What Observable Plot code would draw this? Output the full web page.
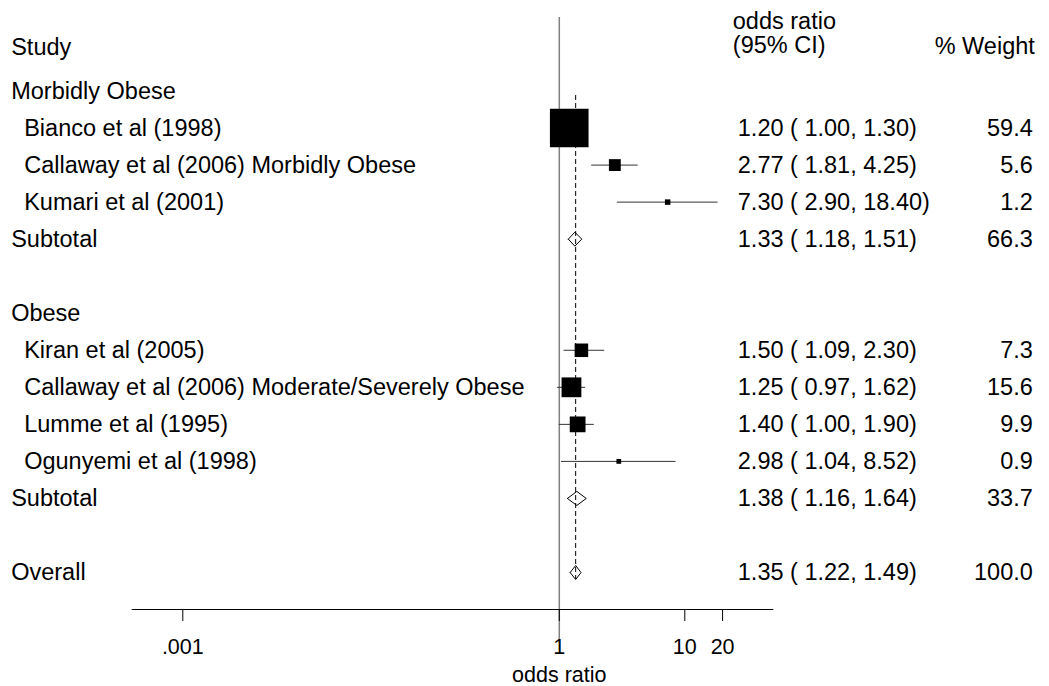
<!DOCTYPE html>
<html><head><meta charset="utf-8">
<script src="https://cdn.jsdelivr.net/npm/d3@7"></script>
<script src="https://cdn.jsdelivr.net/npm/@observablehq/plot@0.6"></script>
<style>body{margin:0;background:#fff;} svg{display:block}</style>
</head><body><div id="chart"></div>
<script>
// ---- data ----
const studyNames = ["Bianco et al (1998)", "Callaway et al (2006) Morbidly Obese", "Kumari et al (2001)",
  "Kiran et al (2005)", "Callaway et al (2006) Moderate/Severely Obese", "Lumme et al (1995)", "Ogunyemi et al (1998)"];
const studyRows = [2, 3, 4, 8, 9, 10, 11];
const studyOR = [1.20, 2.77, 7.30, 1.50, 1.25, 1.40, 2.98];
const studyLo = [1.00, 1.81, 2.90, 1.09, 0.97, 1.00, 1.04];
const studyHi = [1.30, 4.25, 18.40, 2.30, 1.62, 1.90, 8.52];
const studyWeight = [59.4, 5.6, 1.2, 7.3, 15.6, 9.9, 0.9];

const groupNames = ["Morbidly Obese", "Obese"];
const groupRows = [1, 7];

const summaryNames = ["Subtotal", "Subtotal", "Overall"];
const summaryRows = [5, 12, 14];
const summaryOR = [1.33, 1.38, 1.35];
const summaryLo = [1.18, 1.16, 1.22];
const summaryHi = [1.51, 1.64, 1.49];
const summaryWeight = [66.3, 33.7, 100.0];

const xTicks = [0.001, 1, 10, 20];
const xTickLabels = [".001", "1", "10", "20"];
const headerStudy = "Study";
const headerCI = ["odds ratio", "(95% CI)"];
const headerWeight = "% Weight";
const xLabel = "odds ratio";

// ---- layout ----
const W = 1049, H = 686;
const pxPerDecade = 125.5, onePx = 558.8;
const leftPx = 131.7, rightPx = 773.3, axisPx = 609;
const row1Px = 90.5, rowStep = 37.04;
const ry = p => 1 + (p - row1Px) / rowStep;          // pixel -> row units
const xAt = p => Math.pow(10, (p - onePx) / pxPerDecade);
const FS = 23.5, AFS = 21.5;
const fmt2 = v => v.toFixed(2);
const ciText = (o, l, h) => `${fmt2(o)} ( ${fmt2(l)}, ${fmt2(h)})`;

const studies = studyNames.map((name, i) => ({
  name, row: studyRows[i], or: studyOR[i], lo: studyLo[i], hi: studyHi[i], weight: studyWeight[i],
  ci: ciText(studyOR[i], studyLo[i], studyHi[i]), w: studyWeight[i].toFixed(1)
}));
const summaries = summaryNames.map((name, i) => ({
  name, row: summaryRows[i], or: summaryOR[i], lo: summaryLo[i], hi: summaryHi[i],
  ci: ciText(summaryOR[i], summaryLo[i], summaryHi[i]), w: summaryWeight[i].toFixed(1)
}));
const groups = groupNames.map((name, i) => ({name, row: groupRows[i]}));

const dh = 7 / rowStep;
const diamonds = summaries.flatMap((s, i) => [
  {id: i, x: s.lo, y: s.row}, {id: i, x: s.or, y: s.row - dh}, {id: i, x: s.hi, y: s.row},
  {id: i, x: s.or, y: s.row + dh}, {id: i, x: s.lo, y: s.row}
]);

const chart = Plot.plot({
  width: W, height: H,
  marginLeft: leftPx, marginRight: W - rightPx, marginTop: 0, marginBottom: H - axisPx,
  style: {fontFamily: "'Liberation Sans', Arial, sans-serif", background: "white", color: "black"},
  x: {type: "log", domain: [xAt(leftPx), xAt(rightPx)]},
  y: {domain: [ry(0), ry(axisPx)], reverse: true, axis: null},
  r: {type: "sqrt", domain: [0, d3.max(studyWeight)], range: [0, 21.8]},
  marks: [
    Plot.ruleX([1], {y1: ry(17), y2: ry(642), stroke: "#808080", strokeWidth: 1.5}),
    Plot.ruleX([summaryOR[2]], {y1: ry(95), y2: ry(579), stroke: "black", strokeWidth: 1, strokeDasharray: "5,3"}),
    Plot.ruleY(studies, {y: "row", x1: "lo", x2: "hi", stroke: "#333", strokeWidth: 1}),
    Plot.dot(studies, {x: "or", y: "row", r: "weight", symbol: "square", fill: "black"}),
    Plot.line(diamonds, {x: "x", y: "y", z: "id", stroke: "black", strokeWidth: 1, fill: "none"}),
    Plot.ruleY([ry(axisPx)], {stroke: "black", strokeWidth: 1}),
    Plot.axisX({ticks: xTicks, tickFormat: d => xTickLabels[xTicks.indexOf(d)], tickSize: 12,
      tickPadding: 17, fontSize: AFS, label: null, stroke: "black"}),
    Plot.text([xLabel], {x: () => 1, frameAnchor: "bottom", dy: 72, lineAnchor: "bottom", fontSize: AFS, fill: "black"}),
    // headers
    Plot.text([headerStudy], {y: () => ry(47), frameAnchor: "left", dx: -121, textAnchor: "start", fontSize: FS, fill: "black"}),
    Plot.text([headerCI[0]], {y: () => ry(21), frameAnchor: "right", dx: -41, textAnchor: "start", fontSize: FS, fill: "black"}),
    Plot.text([headerCI[1]], {y: () => ry(45), frameAnchor: "right", dx: -41, textAnchor: "start", fontSize: FS, fill: "black"}),
    Plot.text([headerWeight], {y: () => ry(46), frameAnchor: "right", dx: 261, textAnchor: "end", fontSize: FS, fill: "black"}),
    // left labels
    Plot.text(groups, {y: "row", text: "name", frameAnchor: "left", dx: -121, textAnchor: "start", fontSize: FS, fill: "black"}),
    Plot.text(summaries, {y: "row", text: "name", frameAnchor: "left", dx: -121, textAnchor: "start", fontSize: FS, fill: "black"}),
    Plot.text(studies, {y: "row", text: "name", frameAnchor: "left", dx: -108, textAnchor: "start", fontSize: FS, fill: "black"}),
    // right columns
    Plot.text(studies, {y: "row", text: "ci", frameAnchor: "right", dx: -36, textAnchor: "start", fontSize: FS, fill: "black"}),
    Plot.text(summaries, {y: "row", text: "ci", frameAnchor: "right", dx: -36, textAnchor: "start", fontSize: FS, fill: "black"}),
    Plot.text(studies, {y: "row", text: "w", frameAnchor: "right", dx: 259, textAnchor: "end", fontSize: FS, fill: "black"}),
    Plot.text(summaries, {y: "row", text: "w", frameAnchor: "right", dx: 259, textAnchor: "end", fontSize: FS, fill: "black"})
  ]
});
document.getElementById("chart").appendChild(chart);
</script>
</body></html>
